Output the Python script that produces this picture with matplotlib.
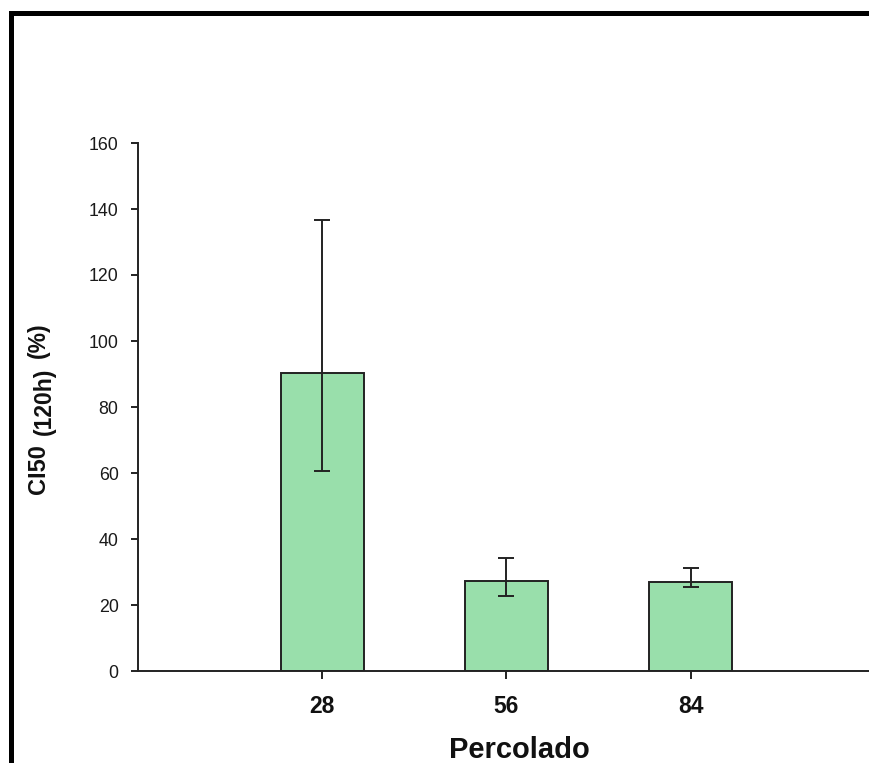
import matplotlib
matplotlib.use("Agg")
import matplotlib.pyplot as plt
from matplotlib.patches import Rectangle
import numpy as np

# Data
categories = ["28", "56", "84"]
ci50_mean = [90.2, 27.3, 26.9]
err_low = [29.5, 4.7, 1.3]
err_high = [46.6, 6.9, 4.2]
yticks = [0, 20, 40, 60, 80, 100, 120, 140, 160]

W, H = 869, 763
DPI = 100
plt.rcParams["font.family"] = ["Liberation Sans", "DejaVu Sans"]

fig = plt.figure(figsize=(W / DPI, H / DPI), dpi=DPI)
fig.patch.set_facecolor("white")


def fx(px):
    return px / W


def fy(py):
    return 1 - py / H


# Axes box: left edge at x=138 px, zero line at y=671 px, 160 at y=143 px
ax_left, ax_right = 138, 875
ax_bottom, ax_top = 671, 143
ax = fig.add_axes([fx(ax_left), fy(ax_bottom), (ax_right - ax_left) / W,
                   (ax_bottom - ax_top) / H])
ax.set_facecolor("none")

x = np.arange(1, len(categories) + 1)
edge = "#222222"
ax.bar(x, ci50_mean, width=0.45, color="#99dfab", edgecolor=edge,
       linewidth=1.4, zorder=2)
ax.errorbar(x, ci50_mean, yerr=[err_low, err_high], fmt="none",
            ecolor=edge, elinewidth=1.4, capsize=5.8, capthick=1.4, zorder=3)

ax.set_xlim(0, 4)
ax.set_ylim(0, 160)
ax.set_xticks(x)
ax.set_xticklabels(categories, fontsize=16.5, fontweight="bold")
ax.set_yticks(yticks)
ax.set_yticklabels([str(v) for v in yticks], fontsize=12.8)

for side in ("top", "right"):
    ax.spines[side].set_visible(False)
for side in ("left", "bottom"):
    ax.spines[side].set_linewidth(1.4)
    ax.spines[side].set_color(edge)
    ax.spines[side].set_clip_on(False)

ax.tick_params(axis="y", direction="out", length=5, width=1.4, color=edge,
               pad=9, labelcolor="#1a1a1a")
ax.tick_params(axis="x", direction="out", length=6, width=1.4, color=edge,
               pad=11, labelcolor="#111111")

# X axis title
fig.text(fx(519), fy(758), "Percolado", fontsize=21, fontweight="bold",
         ha="center", va="baseline", color="#111111")

# Y axis title with subscript part, drawn as rotated pieces
ylab_kw = dict(rotation=90, rotation_mode="anchor", ha="left", va="baseline",
               fontweight="bold", color="#111111")
fig.text(fx(45), fy(494), "CI50", fontsize=17, **ylab_kw)
fig.text(fx(51), fy(435), "(120h)", fontsize=16.5, **ylab_kw)
fig.text(fx(45), fy(358), "(%)", fontsize=16.5, **ylab_kw)

# Heavy frame around the figure (only left and top edges fall inside)
frame = Rectangle((fx(10.5), -0.5), 2.0, fy(12.5) + 0.5,
                  transform=fig.transFigure, fill=False, edgecolor="black",
                  linewidth=3.6, clip_on=False)
fig.add_artist(frame)

fig.savefig("out.png", dpi=DPI, facecolor="white")
